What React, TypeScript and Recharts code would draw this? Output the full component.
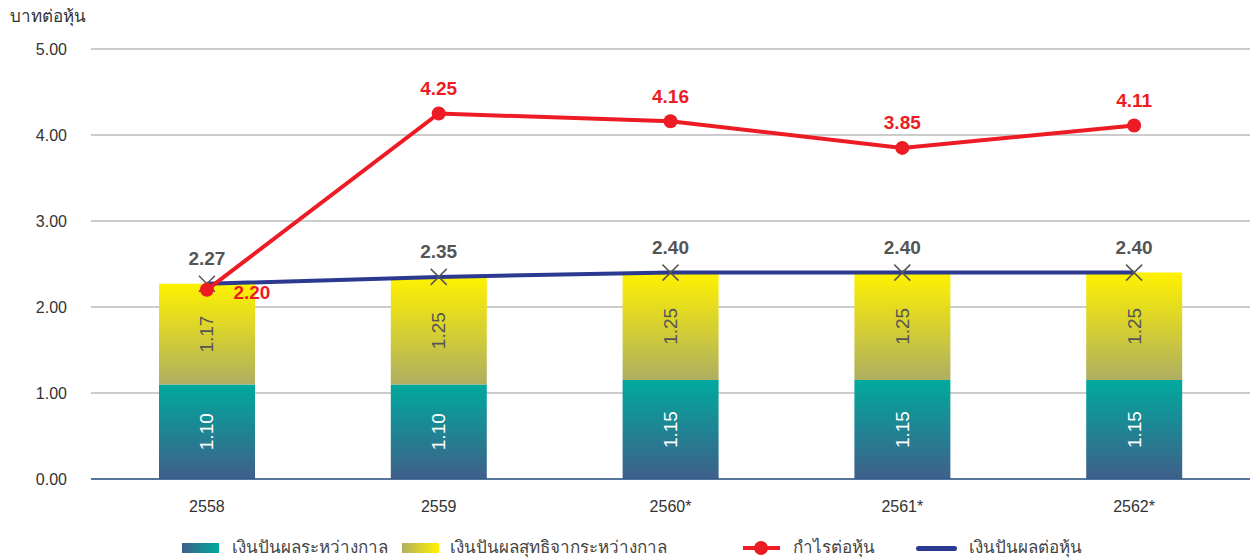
import React from 'react';
import { ComposedChart, Bar, Line, XAxis, YAxis, CartesianGrid, LabelList, Legend } from 'recharts';

const categories = ['2558', '2559', '2560*', '2561*', '2562*'];
const interimDividend = [1.10, 1.10, 1.15, 1.15, 1.15];
const netProfitDividend = [1.17, 1.25, 1.25, 1.25, 1.25];
const eps = [2.20, 4.25, 4.16, 3.85, 4.11];
const dividendPerShare = [2.27, 2.35, 2.40, 2.40, 2.40];
const yTicks = [0, 1, 2, 3, 4, 5];

const seriesNames = {
  interim: 'เงินปันผลระหว่างกาล',
  net: 'เงินปันผลสุทธิจากระหว่างกาล',
  eps: 'กำไรต่อหุ้น',
  dps: 'เงินปันผลต่อหุ้น',
};

const data = categories.map((c, i) => ({
  name: c,
  interim: interimDividend[i],
  net: netProfitDividend[i],
  eps: eps[i],
  dps: dividendPerShare[i],
}));

const FONT = "'Liberation Sans', Arial, 'Noto Sans', sans-serif";
const RED = '#ED1C24';
const NAVY = '#2B3990';
const GRAY = '#555555';

const XDot = (props: any) => {
  const { cx, cy } = props;
  if (cx == null || cy == null) return null;
  const s = 8;
  return (
    <g>
      <line x1={cx - s} y1={cy - s} x2={cx + s} y2={cy + s} stroke={GRAY} strokeWidth={1.5} />
      <line x1={cx - s} y1={cy + s} x2={cx + s} y2={cy - s} stroke={GRAY} strokeWidth={1.5} />
    </g>
  );
};

const RotLabel = (color: string) => (props: any) => {
  const { x, y, width, height, value } = props;
  const cx = x + width / 2;
  const cy = y + height / 2;
  return (
    <text
      x={cx}
      y={cy}
      fill={color}
      fontSize={19}
      fontFamily={FONT}
      textAnchor="middle"
      dominantBaseline="central"
      transform={`rotate(-90 ${cx} ${cy})`}
    >
      {Number(value).toFixed(2)}
    </text>
  );
};

const EpsLabel = (props: any) => {
  const { x, y, value, index } = props;
  const first = index === 0;
  return (
    <text
      x={first ? x + 45 : x}
      y={first ? y + 3 : y - 25}
      fill={RED}
      fontSize={19}
      fontWeight="bold"
      fontFamily={FONT}
      textAnchor="middle"
      dominantBaseline="central"
    >
      {Number(value).toFixed(2)}
    </text>
  );
};

const DpsLabel = (props: any) => {
  const { x, y, value } = props;
  return (
    <text
      x={x}
      y={y - 25}
      fill={GRAY}
      fontSize={19}
      fontWeight="bold"
      fontFamily={FONT}
      textAnchor="middle"
      dominantBaseline="central"
    >
      {Number(value).toFixed(2)}
    </text>
  );
};

const LegendContent = () => {
  const textStyle: React.CSSProperties = {
    fontSize: 17, color: '#444', fontFamily: FONT, position: 'absolute', top: -5, lineHeight: '20px', whiteSpace: 'nowrap',
  };
  return (
    <div style={{ position: 'relative', width: 1250, height: 20 }}>
      <div style={{ position: 'absolute', left: 182, top: 0, width: 37, height: 10, background: 'linear-gradient(to right, #3F5F8A, #00A99D)' }} />
      <div style={{ ...textStyle, left: 232 }}>{seriesNames.interim}</div>
      <div style={{ position: 'absolute', left: 402, top: 0, width: 37, height: 10, background: 'linear-gradient(to right, #B0B060, #FFF200)' }} />
      <div style={{ ...textStyle, left: 450 }}>{seriesNames.net}</div>
      <div style={{ position: 'absolute', left: 743, top: 3, width: 37, height: 4, background: RED }} />
      <div style={{ position: 'absolute', left: 754, top: -2, width: 14, height: 14, borderRadius: 7, background: RED }} />
      <div style={{ ...textStyle, left: 793 }}>{seriesNames.eps}</div>
      <div style={{ position: 'absolute', left: 916, top: 2.5, width: 41, height: 5, borderRadius: 3, background: NAVY }} />
      <div style={{ ...textStyle, left: 969 }}>{seriesNames.dps}</div>
    </div>
  );
};

export default function App() {
  return (
    <div style={{ position: 'absolute', left: 0, top: 0, width: 1250, height: 559, background: '#fff' }}>
      <div style={{ position: 'absolute', left: 10, top: 2, fontSize: 17, color: '#333', fontFamily: FONT }}>บาทต่อหุ้น</div>
      <ComposedChart
        width={1250}
        height={559}
        data={data}
        margin={{ top: 49, right: 0, bottom: 0, left: 0 }}
      >
        <defs>
          <linearGradient id="gInterim" x1="0" y1="0" x2="0" y2="1">
            <stop offset="0%" stopColor="#00A99D" />
            <stop offset="100%" stopColor="#3F5F8A" />
          </linearGradient>
          <linearGradient id="gNet" x1="0" y1="0" x2="0" y2="1">
            <stop offset="0%" stopColor="#FFF200" />
            <stop offset="100%" stopColor="#AEAE62" />
          </linearGradient>
        </defs>
        <CartesianGrid horizontal vertical={false} stroke="#BBBBBB" strokeWidth={1.5} />
        <XAxis
          dataKey="name"
          axisLine={{ stroke: '#2E5A8E', strokeWidth: 1.5 }}
          tickLine={false}
          tickSize={0}
          tickMargin={22}
          height={60}
          tick={{ fill: '#333', fontSize: 16, fontFamily: FONT }}
        />
        <YAxis
          width={91}
          domain={[0, 5]}
          ticks={yTicks}
          axisLine={false}
          tickLine={false}
          tickSize={0}
          tickMargin={24}
          tickFormatter={(v: number) => v.toFixed(2)}
          tick={{ fill: '#333', fontSize: 16, fontFamily: FONT }}
        />
        <Legend verticalAlign="bottom" height={20} content={<LegendContent />} wrapperStyle={{ left: 0, top: 543, bottom: 'auto' }} />
        <Bar dataKey="interim" name={seriesNames.interim} stackId="a" fill="url(#gInterim)" barSize={96} isAnimationActive={false}>
          <LabelList dataKey="interim" content={RotLabel('#FFFFFF')} />
        </Bar>
        <Bar dataKey="net" name={seriesNames.net} stackId="a" fill="url(#gNet)" barSize={96} isAnimationActive={false}>
          <LabelList dataKey="net" content={RotLabel(GRAY)} />
        </Bar>
        <Line
          dataKey="dps"
          name={seriesNames.dps}
          stroke={NAVY}
          strokeWidth={4}
          dot={<XDot />}
          activeDot={false}
          isAnimationActive={false}
        >
          <LabelList dataKey="dps" content={DpsLabel} />
        </Line>
        <Line
          dataKey="eps"
          name={seriesNames.eps}
          stroke={RED}
          strokeWidth={4}
          dot={{ r: 7, fill: RED, stroke: RED, strokeWidth: 0 }}
          activeDot={false}
          isAnimationActive={false}
        >
          <LabelList dataKey="eps" content={EpsLabel} />
        </Line>
      </ComposedChart>
    </div>
  );
}
